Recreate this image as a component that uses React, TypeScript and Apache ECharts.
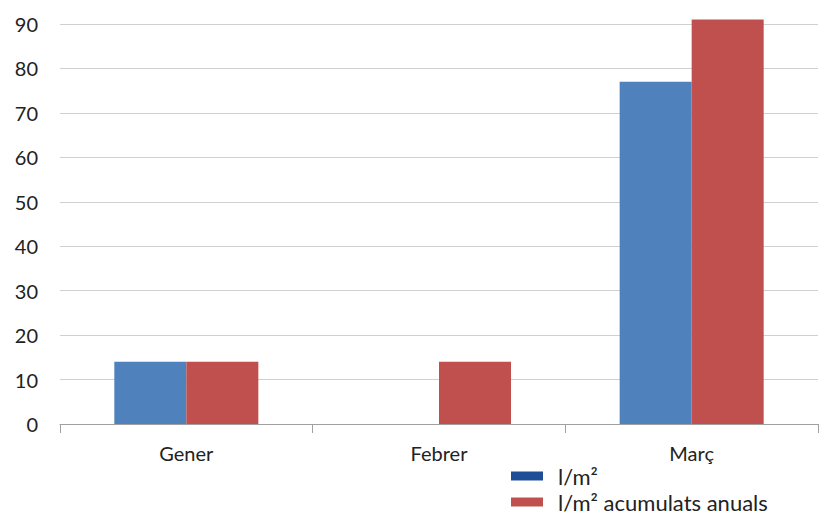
import React, { useEffect, useRef } from "react";
import * as echarts from "echarts";

const categories = ["Gener", "Febrer", "Març"];
const seriesNames = ["l/m²", "l/m² acumulats anuals"];
const monthly = [14, 0, 77];
const accumulated = [14, 14, 91];
const yTicks = [0, 10, 20, 30, 40, 50, 60, 70, 80, 90];

export default function App() {
  const ref = useRef<HTMLDivElement>(null);
  useEffect(() => {
    if (!ref.current) return;
    const chart = echarts.init(ref.current, null, { renderer: "svg" });
    const font = "Lato, 'Open Sans', 'DejaVu Sans', sans-serif";
    const legendBase = {
      orient: "horizontal",
      left: 511,
      itemWidth: 32,
      itemHeight: 9,
      icon: "rect",
      padding: 0,
      textStyle: {
        fontSize: 22,
        lineHeight: 20,
        color: "#222",
        fontFamily: font,
        padding: [0, 0, 0, 10],
      },
    };
    chart.setOption({
      animation: false,
      textStyle: { fontFamily: font },
      grid: { left: 60, right: 3, top: 24, bottom: 91 },
      legend: [
        {
          ...legendBase,
          top: 465,
          data: [{ name: seriesNames[0], itemStyle: { color: "#1F4E96" } }],
        },
        {
          ...legendBase,
          top: 491,
          data: [{ name: seriesNames[1], itemStyle: { color: "#C0504D" } }],
        },
      ],
      xAxis: {
        type: "category",
        data: categories,
        axisLine: { lineStyle: { color: "#A0A0A0" } },
        axisTick: { show: true, length: 9, lineStyle: { color: "#A0A0A0" } },
        axisLabel: { fontSize: 20, color: "#222", margin: 19 },
      },
      yAxis: {
        type: "value",
        min: yTicks[0],
        max: yTicks[yTicks.length - 1],
        interval: 10,
        axisLine: { show: false },
        axisTick: { show: false },
        axisLabel: { fontSize: 20, color: "#222", margin: 22 },
        splitLine: { lineStyle: { color: "#D0D0D0", width: 1 } },
      },
      series: [
        {
          name: seriesNames[0],
          type: "bar",
          data: monthly,
          clip: false,
          itemStyle: { color: "#4F81BD" },
          barGap: "0%",
          barCategoryGap: "43%",
        },
        {
          name: seriesNames[1],
          type: "bar",
          data: accumulated,
          clip: false,
          itemStyle: { color: "#C0504D" },
          barGap: "0%",
          barCategoryGap: "43%",
        },
      ],
    });
    return () => chart.dispose();
  }, []);
  return <div ref={ref} style={{ width: 821, height: 515, position: "absolute", left: 0, top: 0 }} />;
}
